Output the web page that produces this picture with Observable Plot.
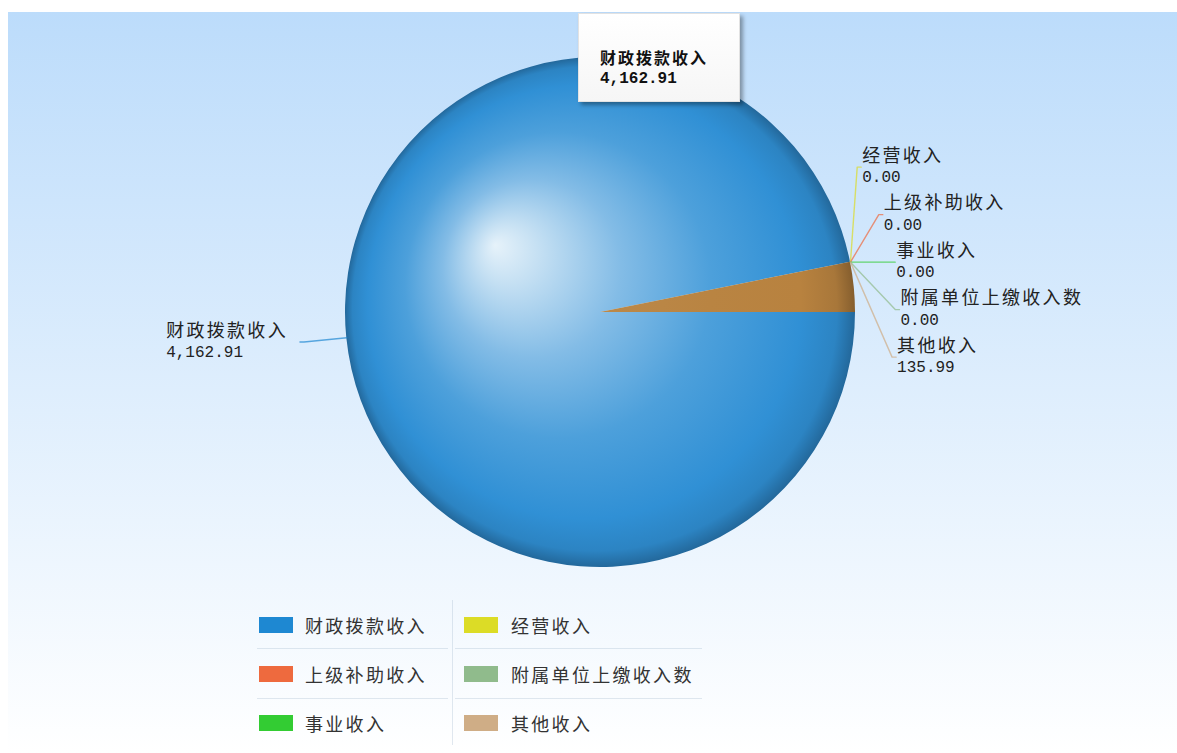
<!DOCTYPE html>
<html>
<head>
<meta charset="utf-8">
<script src="https://cdn.jsdelivr.net/npm/d3@7"></script>
<script src="https://cdn.jsdelivr.net/npm/@observablehq/plot@0.6"></script>
<style>
  body { margin: 0; background: #ffffff; }
  #wrap { position: absolute; left: 8px; top: 12px; width: 1169px; height: 741px;
          background: linear-gradient(#bcdcfb, #ffffff); overflow: hidden; }
  #chart { position: absolute; left: 0; top: 0; }
  #tip { position: absolute; left: 570px; top: 1px; width: 160px; height: 87px;
         background: linear-gradient(#ffffff, #f6f6f6); border: 1px solid #e2e2e2;
         box-shadow: 3px 3px 4px rgba(0,0,0,0.35); }
  #tip .n { position: absolute; left: 21px; top: 31px; line-height: 20px; white-space: nowrap;
            font: bold 16px "Noto Sans CJK SC"; letter-spacing: 2px; color: #111; }
  #tip .v { position: absolute; left: 21px; top: 56px; line-height: 20px; white-space: nowrap;
            font: bold 16px "Liberation Mono"; color: #111; }
  .sw { position: absolute; width: 34px; height: 16px; }
  .lt { position: absolute; font: 18px "Noto Sans CJK SC"; letter-spacing: 2.3px; color: #333;
        line-height: 24px; white-space: nowrap; }
  .hs { position: absolute; height: 1px; background: rgba(170,190,210,0.35); }
  .vs { position: absolute; width: 1px; background: rgba(170,190,210,0.35); }
</style>
</head>
<body>
<div id="wrap">
  <div id="chart"></div>
  <div id="tip"><div class="n"></div><div class="v"></div></div>
  <div id="legend"></div>
</div>
<script>
// ---- data ----
const categories = ["财政拨款收入", "经营收入", "上级补助收入", "事业收入", "附属单位上缴收入数", "其他收入"];
const values = [4162.91, 0, 0, 0, 0, 135.99];
const colors = ["#1e88d2", "#dcdc26", "#ee6a3e", "#33cc33", "#90bb8c", "#cfad86"];
const sliceFill = ["#3090d5", "#dcdc26", "#ee6a3e", "#33cc33", "#90bb8c", "#b8823f"];
const sliceGloss = [1, 1, 1, 1, 1, 0.12];
const legendOrder = ["财政拨款收入", "经营收入", "上级补助收入", "附属单位上缴收入数", "事业收入", "其他收入"];
const tooltipCategory = "财政拨款收入";

// ---- layout ----
const fmt = d3.format(",.2f");
const W = 1169, H = 580, CX = 592, CY = 300, K = 255; // K: pixels per unit radius
const xDomain = [-CX / K, (W - CX) / K];
const yDomain = [-(H - CY) / K, CY / K];
const RL = 295 / K;          // label ring radius
const SP = 47.5 / K;         // stacked label spacing
const TAIL = 4 / K;          // horizontal leader tail
const HL = [-105, -67];      // highlight offset in px from centre
const LS = 2.3;              // letter spacing of names

const data = categories.map((name, i) => ({name, value: values[i], color: colors[i], i}));
const pie = d3.pie().sort(null).value(d => d.value)
  .startAngle(Math.PI / 2).endAngle(Math.PI / 2 + 2 * Math.PI);
const arcs = pie(data);

arcs.forEach(a => {
  const span = a.endAngle - a.startAngle;
  a.anchorAngle = span < 0.5 ? a.startAngle : (a.startAngle + a.endAngle) / 2;
  a.ax = Math.sin(a.anchorAngle);
  a.ay = Math.cos(a.anchorAngle);
  a.side = a.ax >= 0 ? 1 : -1;
});

// measure text width for left-side labels
const ctx = document.createElement("canvas").getContext("2d");
ctx.font = '18px "Noto Sans CJK SC"';
const measure = s => ctx.measureText(s).width + LS * s.length;

const labels = [];
for (const side of [1, -1]) {
  const group = arcs.filter(a => a.side === side);
  const n = group.length;
  const meanY = d3.mean(group, a => a.ay);
  group.forEach((a, k) => {
    let ex, ey;
    if (n === 1) { ex = (RL + 3 / K) * a.ax; ey = (RL + 3 / K) * a.ay; }
    else {
      ey = meanY - (k - (n - 1) / 2) * SP;
      ex = side * Math.sqrt(Math.max(RL * RL - ey * ey, 0));
    }
    const tx = ex + side * TAIL;
    const textX = side > 0 ? tx + 1 / K : tx - (12 + measure(a.data.name)) / K;
    labels.push({name: a.data.name, value: fmt(a.data.value), ax: a.ax, ay: a.ay, ex, ey, tx, textX});
  });
}

const leaderPts = labels.flatMap(l => [
  {name: l.name, x: l.ax, y: l.ay},
  {name: l.name, x: l.ex, y: l.ey},
  {name: l.name, x: l.tx, y: l.ey}
]);

function pieMark(index, scales) {
  const x = scales.x, y = scales.y;
  const cx = x(0), cy = y(0), r = x(1) - x(0);
  const g = d3.create("svg:g");
  const defs = g.append("defs");
  arcs.forEach(a => {
    const base = d3.color(sliceFill[a.data.i]);
    const gl = sliceGloss[a.data.i];
    const mixW = t => d3.interpolateRgb(base, "#ffffff")(t * gl);
    const grad = defs.append("radialGradient").attr("id", "sg" + a.data.i)
      .attr("gradientUnits", "userSpaceOnUse")
      .attr("cx", 0).attr("cy", 0).attr("r", r).attr("fx", HL[0]).attr("fy", HL[1]);
    [[0, mixW(0.88)], [0.12, mixW(0.72)], [0.35, mixW(0.4)], [0.6, mixW(0.14)],
     [0.85, base.formatHex()], [0.95, base.darker(0.25).formatHex()], [1, base.darker(0.9).formatHex()]]
      .forEach(([o, c]) => grad.append("stop").attr("offset", o).attr("stop-color", c));
  });
  g.append("g").attr("transform", `translate(${cx},${cy})`)
    .selectAll("path").data(arcs.filter(a => a.value > 0)).join("path")
    .attr("d", d3.arc().innerRadius(0).outerRadius(r))
    .attr("fill", d => `url(#sg${d.data.i})`);
  return g.node();
}

const chart = Plot.plot({
  width: W, height: H, margin: 0,
  style: {background: "transparent", overflow: "visible"},
  x: {domain: xDomain, axis: null},
  y: {domain: yDomain, axis: null},
  color: {domain: categories, range: colors},
  marks: [
    pieMark,
    Plot.line(leaderPts, {x: "x", y: "y", z: "name", stroke: "name", strokeWidth: 1.4, strokeOpacity: 0.7}),
    Plot.text(labels, {x: "textX", y: "ey", text: "name", dy: -11, textAnchor: "start", lineAnchor: "middle",
      fontFamily: "Noto Sans CJK SC", fontSize: 18, fill: "#222"}),
    Plot.text(labels, {x: "textX", y: "ey", text: "value", dy: 10, textAnchor: "start", lineAnchor: "middle",
      fontFamily: "Liberation Mono", fontSize: 16, fill: "#222"})
  ]
});
// letter spacing for the category names
chart.querySelectorAll("text").forEach(t => {
  if (categories.includes(t.textContent)) t.style.letterSpacing = LS + "px";
});
document.getElementById("chart").appendChild(chart);

// tooltip
const ti = categories.indexOf(tooltipCategory);
document.querySelector("#tip .n").textContent = categories[ti];
document.querySelector("#tip .v").textContent = fmt(values[ti]);

// legend
const legend = document.getElementById("legend");
const colX = [[251, 297], [456, 503]];
const rowY = [605, 654, 703];
legendOrder.forEach((name, k) => {
  const c = k % 2, r = Math.floor(k / 2);
  const sw = document.createElement("div");
  sw.className = "sw";
  sw.style.left = colX[c][0] + "px";
  sw.style.top = rowY[r] + "px";
  sw.style.background = colors[categories.indexOf(name)];
  legend.appendChild(sw);
  const t = document.createElement("div");
  t.className = "lt";
  t.style.left = colX[c][1] + "px";
  t.style.top = (rowY[r] + 8 - 12) + "px";
  t.textContent = name;
  legend.appendChild(t);
});
[[249, 440], [447, 694]].forEach(([a, b]) => {
  [636, 686].forEach(yy => {
    const h = document.createElement("div");
    h.className = "hs";
    h.style.left = a + "px"; h.style.width = (b - a) + "px"; h.style.top = yy + "px";
    legend.appendChild(h);
  });
});
const v = document.createElement("div");
v.className = "vs";
v.style.left = "444px"; v.style.top = "588px"; v.style.height = "145px";
legend.appendChild(v);
</script>
</body>
</html>
